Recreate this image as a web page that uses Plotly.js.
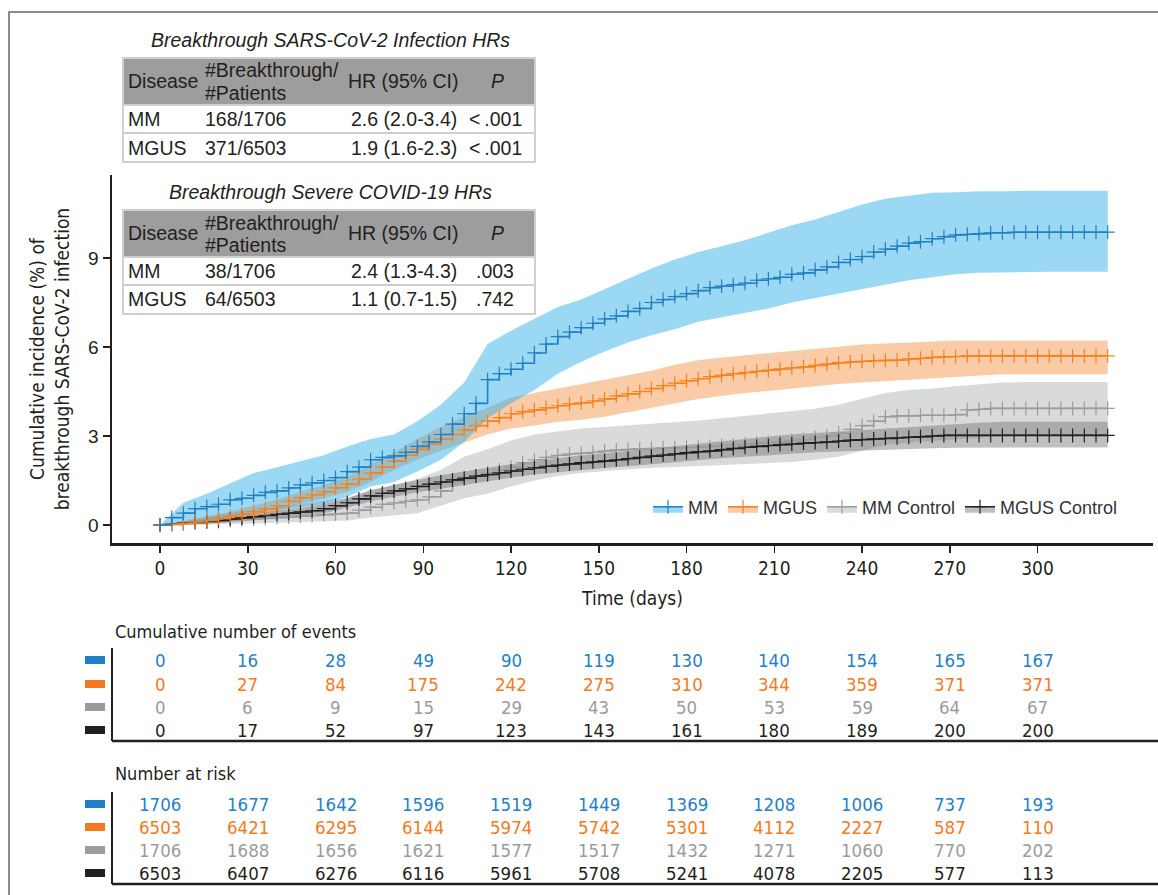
<!DOCTYPE html>
<html><head><meta charset="utf-8">
<script src="https://cdn.plot.ly/plotly-3.0.1.min.js"></script>
<style>html,body{margin:0;padding:0;background:#fff}#chart{width:1158px;height:895px}</style>
</head><body><div id="chart"></div>
<script>
// ---------- DATA ----------
const days = [0,4,8,12,16,20,24,28,32,36,40,44,48,52,56,60,64,68,72,76,80,84,88,92,96,100,104,108,112,116,120,124,128,132,136,140,144,148,152,156,160,164,168,172,176,180,184,188,192,196,200,204,208,212,216,220,224,228,232,236,240,244,248,252,256,260,264,268,272,276,280,284,288,292,296,300,304,308,312,316,320,324];
const mmEst = [0,0.25,0.4,0.55,0.62,0.7,0.85,0.9,1.0,1.1, 1.15,1.25,1.35,1.42,1.5,1.6,1.8,1.95,2.2,2.28, 2.33,2.45,2.65,2.8,3.05,3.4,3.75,4.1,4.9,5.1, 5.25,5.45,5.8,6.1,6.35,6.5,6.65,6.8,6.95,7.05, 7.2,7.3,7.5,7.6,7.7,7.8,7.9,8.0,8.05,8.1, 8.15,8.25,8.3,8.35,8.45,8.5,8.6,8.7,8.85,8.95, 9.05,9.2,9.3,9.4,9.5,9.55,9.65,9.72,9.78,9.8, 9.82,9.85,9.85,9.87,9.87,9.87,9.87,9.87,9.87,9.87, 9.87,9.87];
const mgusEst = [0,0.02,0.05,0.1,0.15,0.22,0.3,0.37,0.45,0.55, 0.65,0.8,0.92,1.02,1.12,1.25,1.38,1.55,1.75,1.95, 2.15,2.35,2.55,2.72,2.9,3.05,3.2,3.35,3.5,3.62, 3.75,3.82,3.88,3.95,4.02,4.08,4.12,4.18,4.25,4.35, 4.42,4.5,4.6,4.7,4.78,4.86,4.93,5.0,5.05,5.1, 5.14,5.18,5.22,5.26,5.3,5.33,5.38,5.43,5.47,5.5, 5.52,5.54,5.55,5.56,5.6,5.62,5.65,5.67,5.68,5.7, 5.7,5.7,5.7,5.7,5.7,5.7,5.7,5.7,5.7,5.7, 5.7,5.7];
const mmCtrlEst = [0,0.02,0.05,0.08,0.1,0.12,0.15,0.18,0.2,0.22, 0.25,0.27,0.3,0.32,0.35,0.37,0.4,0.5,0.6,0.7, 0.75,0.8,0.85,0.95,1.15,1.45,1.55,1.65,1.75,1.85, 1.95,2.1,2.2,2.28,2.35,2.4,2.42,2.45,2.5,2.53, 2.55,2.57,2.58,2.6,2.6,2.62,2.63,2.65,2.68,2.7, 2.73,2.76,2.78,2.8,2.85,2.88,2.95,3.0,3.1,3.22, 3.35,3.5,3.65,3.68,3.68,3.7,3.7,3.7,3.72,3.88, 3.9,3.93,3.93,3.93,3.93,3.93,3.93,3.93,3.93,3.93, 3.93,3.93];
const mgusCtrlEst = [0,0.03,0.06,0.09,0.12,0.15,0.2,0.24,0.28,0.32, 0.36,0.4,0.44,0.48,0.55,0.65,0.75,0.88,0.98,1.07, 1.15,1.22,1.3,1.38,1.45,1.52,1.58,1.65,1.7,1.76, 1.82,1.88,1.93,1.98,2.02,2.06,2.1,2.13,2.16,2.2, 2.24,2.28,2.32,2.36,2.4,2.44,2.47,2.5,2.54,2.58, 2.62,2.65,2.68,2.71,2.73,2.76,2.78,2.8,2.83,2.86, 2.88,2.9,2.92,2.94,2.96,2.98,3.0,3.02,3.02,3.02, 3.02,3.02,3.02,3.02,3.02,3.02,3.02,3.02,3.02,3.02, 3.02,3.02];

const bandDays = [0,8,16,24,32,40,48,56,64,72,80,88,96,104,112,120,128,136,144,152,160,168,176,184,192,200,208,216,224,232,240,248,256,264,272,280,288,296,304,312,320,324];
const mmUpper = [0,0.75,1.05,1.4,1.75,1.95,2.15,2.35,2.65,2.9, 3.05,3.5,4.05,4.8,6.1,6.55,6.95,7.35,7.6,7.95, 8.3,8.65,8.95,9.2,9.4,9.6,9.85,10.1,10.3,10.55, 10.8,11.0,11.1,11.2,11.22,11.25,11.25,11.27,11.27,11.27, 11.27,11.27];
const mmLower = [0,0.05,0.15,0.3,0.42,0.5,0.6,0.7,0.95,1.3, 1.45,1.8,2.2,2.8,3.6,4.1,4.55,5.1,5.5,5.85, 6.15,6.4,6.6,6.85,7.0,7.15,7.3,7.5,7.65,7.8, 7.95,8.1,8.25,8.35,8.45,8.5,8.52,8.54,8.54,8.54, 8.54,8.54];
const mgusUpper = [0,0.12,0.28,0.45,0.65,0.85,1.12,1.35,1.62,2.05, 2.45,2.9,3.3,3.65,3.95,4.3,4.45,4.6,4.75,4.9, 5.05,5.2,5.4,5.55,5.65,5.72,5.8,5.88,5.95,6.02, 6.08,6.12,6.15,6.2,6.22,6.22,6.22,6.22,6.22,6.22, 6.22,6.22];
const mgusLower = [0,0.01,0.05,0.15,0.28,0.45,0.72,0.9,1.12,1.45, 1.85,2.2,2.5,2.78,3.05,3.25,3.35,3.48,3.55,3.65, 3.8,3.95,4.1,4.25,4.35,4.45,4.52,4.6,4.68,4.75, 4.8,4.85,4.9,4.95,5.0,5.05,5.08,5.08,5.08,5.08, 5.08,5.08];
const mmCtrlUpper = [0,0.15,0.3,0.4,0.5,0.6,0.7,0.8,0.92,1.15, 1.35,1.55,1.85,2.3,2.55,2.85,3.05,3.15,3.25,3.3, 3.35,3.4,3.45,3.52,3.6,3.68,3.75,3.82,3.92,4.05, 4.25,4.45,4.55,4.6,4.68,4.75,4.8,4.82,4.82,4.82, 4.82,4.82];
const mmCtrlLower = [0,0,0.01,0.03,0.05,0.07,0.1,0.12,0.15,0.25, 0.32,0.4,0.65,0.9,1.05,1.3,1.5,1.65,1.75,1.82, 1.88,1.92,1.95,1.98,2.02,2.05,2.08,2.12,2.2,2.3, 2.5,2.7,2.78,2.82,2.88,2.95,3.0,3.0,3.0,3.0, 3.0,3.0];
const mgusCtrlUpper = [0,0.12,0.22,0.32,0.4,0.48,0.57,0.7,0.9,1.18, 1.35,1.5,1.68,1.8,1.93,2.05,2.15,2.25,2.35,2.42, 2.5,2.6,2.68,2.76,2.84,2.92,2.98,3.05,3.1,3.15, 3.2,3.25,3.3,3.36,3.4,3.45,3.48,3.48,3.48,3.48, 3.48,3.48];
const mgusCtrlLower = [0,0.01,0.04,0.1,0.16,0.24,0.3,0.4,0.58,0.8, 0.95,1.1,1.22,1.35,1.48,1.6,1.7,1.78,1.85,1.92, 1.98,2.05,2.12,2.18,2.25,2.3,2.36,2.4,2.45,2.48, 2.52,2.55,2.57,2.59,2.6,2.61,2.61,2.61,2.61,2.61, 2.61,2.61];

const seriesNames = ["MM","MGUS","MM Control","MGUS Control"];
const xTicks = [0,30,60,90,120,150,180,210,240,270,300];
const yTicks = [0,3,6,9];

const eventsMM = [0,16,28,49,90,119,130,140,154,165,167];
const eventsMGUS = [0,27,84,175,242,275,310,344,359,371,371];
const eventsMMCtrl = [0,6,9,15,29,43,50,53,59,64,67];
const eventsMGUSCtrl = [0,17,52,97,123,143,161,180,189,200,200];
const riskMM = [1706,1677,1642,1596,1519,1449,1369,1208,1006,737,193];
const riskMGUS = [6503,6421,6295,6144,5974,5742,5301,4112,2227,587,110];
const riskMMCtrl = [1706,1688,1656,1621,1577,1517,1432,1271,1060,770,202];
const riskMGUSCtrl = [6503,6407,6276,6116,5961,5708,5241,4078,2205,577,113];

const tableHeader = ["Disease","#Breakthrough/","#Patients","HR (95% CI)","P"];
const infTitle = "Breakthrough SARS-CoV-2 Infection HRs";
const infRows = [["MM","168/1706","2.6 (2.0-3.4)","&lt;\u2009.001"],["MGUS","371/6503","1.9 (1.6-2.3)","&lt;\u2009.001"]];
const sevTitle = "Breakthrough Severe COVID-19 HRs";
const sevRows = [["MM","38/1706","2.4 (1.3-4.3)",".003"],["MGUS","64/6503","1.1 (0.7-1.5)",".742"]];

// ---------- STYLE ----------
const W = 1158, H = 895;
const PX = p => p / W;
const PY = p => 1 - p / H;
const SANS = '"Liberation Sans", Arial, Helvetica, sans-serif';
const COND = '"Liberation Sans Narrow", "Arial Narrow", "DejaVu Sans Condensed", sans-serif';
const lineCol = ["#2380c4", "#f5821f", "#9b9c9e", "#231f20"];
const bandCol = ["rgba(56,178,232,0.5)", "rgba(245,140,60,0.45)", "rgba(170,172,175,0.45)", "rgba(110,112,115,0.45)"];
const textCol = ["#1f80c8", "#f47a20", "#9b9b9b", "#231f20"];

const est = [mmEst, mgusEst, mmCtrlEst, mgusCtrlEst];
const up = [mmUpper, mgusUpper, mmCtrlUpper, mgusCtrlUpper];
const lo = [mmLower, mgusLower, mmCtrlLower, mgusCtrlLower];

const traces = [];
const bandOrder = [2, 3, 1, 0];
bandOrder.forEach(i => {
  traces.push({x: bandDays, y: lo[i], type: 'scatter', mode: 'lines', line: {width: 0, color: bandCol[i]}, showlegend: false, hoverinfo: 'skip'});
  traces.push({x: bandDays, y: up[i], type: 'scatter', mode: 'lines', fill: 'tonexty', fillcolor: bandCol[i], line: {width: 0, color: bandCol[i]}, showlegend: false, hoverinfo: 'skip'});
});
const lineOrder = [2, 3, 1, 0];
lineOrder.forEach(i => {
  traces.push({x: days, y: est[i], type: 'scatter', mode: 'lines+markers', name: seriesNames[i], showlegend: false,
    line: {color: lineCol[i], width: 1.6, shape: 'hv'},
    marker: {symbol: 'cross-thin', size: 10, color: lineCol[i], line: {width: 1.2, color: lineCol[i]}}});
});
[0, 1, 2, 3].forEach(i => {
  traces.push({x: [null], y: [null], type: 'scatter', mode: 'lines+markers', name: seriesNames[i], fill: 'toself', fillcolor: bandCol[i],
    line: {color: lineCol[i], width: 1.6},
    marker: {symbol: 'cross-thin', size: 10, color: lineCol[i], line: {width: 1.2, color: lineCol[i]}}});
});

const shapes = [];
const ann = [];

// outer frame
shapes.push({type: 'rect', xref: 'paper', yref: 'paper', x0: PX(9), x1: PX(1175), y0: PY(912), y1: PY(12), line: {color: '#666', width: 1.5}, fillcolor: 'rgba(0,0,0,0)'});

function hrTable(title, rows, top) {
  const left = 123, right = 535;
  const hb = top + 47, r1 = hb + 28, r2 = r1 + 29;
  const f = {family: SANS, size: 19.5, color: '#231f20'};
  ann.push({xref: 'paper', yref: 'paper', x: PX(330), y: PY(top - 18), text: '<i>' + title + '</i>', showarrow: false, xanchor: 'center', yanchor: 'middle', font: f});
  shapes.push({type: 'rect', xref: 'paper', yref: 'paper', x0: PX(left), x1: PX(right), y0: PY(hb), y1: PY(top), fillcolor: '#9d9d9d', line: {color: '#cfcfcf', width: 2}, layer: 'above'});
  shapes.push({type: 'rect', xref: 'paper', yref: 'paper', x0: PX(left), x1: PX(right), y0: PY(r2), y1: PY(hb), fillcolor: '#ffffff', line: {color: '#cfcfcf', width: 2}, layer: 'above'});
  shapes.push({type: 'line', xref: 'paper', yref: 'paper', x0: PX(left), x1: PX(right), y0: PY(r1), y1: PY(r1), line: {color: '#cfcfcf', width: 2}, layer: 'above'});
  const hm = (top + hb) / 2;
  ann.push({xref: 'paper', yref: 'paper', x: PX(126), y: PY(hm), text: tableHeader[0], showarrow: false, xanchor: 'left', yanchor: 'middle', font: f});
  ann.push({xref: 'paper', yref: 'paper', x: PX(203), y: PY(hm - 11), text: tableHeader[1], showarrow: false, xanchor: 'left', yanchor: 'middle', font: f});
  ann.push({xref: 'paper', yref: 'paper', x: PX(203), y: PY(hm + 11), text: tableHeader[2], showarrow: false, xanchor: 'left', yanchor: 'middle', font: f});
  ann.push({xref: 'paper', yref: 'paper', x: PX(346), y: PY(hm), text: tableHeader[3], showarrow: false, xanchor: 'left', yanchor: 'middle', font: f});
  ann.push({xref: 'paper', yref: 'paper', x: PX(498), y: PY(hm), text: '<i>' + tableHeader[4] + '</i>', showarrow: false, xanchor: 'center', yanchor: 'middle', font: f});
  [(hb + r1) / 2, (r1 + r2) / 2].forEach((ym, k) => {
    const r = rows[k];
    ann.push({xref: 'paper', yref: 'paper', x: PX(126), y: PY(ym), text: r[0], showarrow: false, xanchor: 'left', yanchor: 'middle', font: f});
    ann.push({xref: 'paper', yref: 'paper', x: PX(203), y: PY(ym), text: r[1], showarrow: false, xanchor: 'left', yanchor: 'middle', font: f});
    ann.push({xref: 'paper', yref: 'paper', x: PX(349), y: PY(ym), text: r[2], showarrow: false, xanchor: 'left', yanchor: 'middle', font: f});
    ann.push({xref: 'paper', yref: 'paper', x: PX(495), y: PY(ym), text: r[3], showarrow: false, xanchor: 'center', yanchor: 'middle', font: f});
  });
}
hrTable(infTitle, infRows, 58);
hrTable(sevTitle, sevRows, 210);

function riskTable(title, titleY, rowsY, data) {
  ann.push({xref: 'paper', yref: 'paper', x: PX(113), y: PY(titleY), text: title, showarrow: false, xanchor: 'left', yanchor: 'middle', font: {family: COND, size: 18, color: '#231f20'}});
  rowsY.forEach((ry, i) => {
    shapes.push({type: 'rect', xref: 'paper', yref: 'paper', x0: PX(85), x1: PX(105), y0: PY(ry + 4), y1: PY(ry - 4), fillcolor: textCol[i], line: {width: 0}});
    data[i].forEach((v, k) => {
      ann.push({xref: 'x', yref: 'paper', x: xTicks[k], y: PY(ry), text: String(v), showarrow: false, xanchor: 'center', yanchor: 'middle', font: {family: COND, size: 18.5, color: textCol[i]}});
    });
  });
  const bot = rowsY[3] + 11;
  shapes.push({type: 'line', xref: 'paper', yref: 'paper', x0: PX(112), x1: PX(112), y0: PY(rowsY[0] - 12), y1: PY(bot), line: {color: '#231f20', width: 2}});
  shapes.push({type: 'line', xref: 'paper', yref: 'paper', x0: PX(112), x1: PX(1158), y0: PY(bot), y1: PY(bot), line: {color: '#231f20', width: 2.5}});
}
riskTable('Cumulative number of events', 631, [660, 684, 707, 730], [eventsMM, eventsMGUS, eventsMMCtrl, eventsMGUSCtrl]);
riskTable('Number at risk', 773, [804, 827, 850, 873], [riskMM, riskMGUS, riskMMCtrl, riskMGUSCtrl]);

const layout = {
  width: W, height: H,
  margin: {l: 0, r: 0, t: 0, b: 0},
  paper_bgcolor: '#fff', plot_bgcolor: 'rgba(0,0,0,0)',
  font: {family: SANS, color: '#231f20'},
  showlegend: true,
  legend: {orientation: 'h', x: PX(648), y: PY(507), xanchor: 'left', yanchor: 'middle', font: {family: SANS, size: 18, color: '#333'}, bgcolor: 'rgba(0,0,0,0)', itemwidth: 30, traceorder: 'normal'},
  xaxis: {
    domain: [PX(112), PX(1153)], range: [(112 - 160) / 2.925, (1153 - 160) / 2.925],
    tickvals: xTicks, ticks: 'outside', ticklen: 7, tickwidth: 1.5, tickcolor: '#231f20',
    showline: true, linecolor: '#231f20', linewidth: 2.5, showgrid: false, zeroline: false,
    tickfont: {family: COND, size: 19, color: '#231f20'},
    title: {text: 'Time (days)', font: {family: COND, size: 19, color: '#231f20'}, standoff: 14},
    anchor: 'y'
  },
  yaxis: {
    domain: [PY(543), PY(175)], range: [(525 - 543) / 29.667, (525 - 175) / 29.667],
    tickvals: yTicks, ticks: 'outside', ticklen: 7, tickwidth: 1.5, tickcolor: '#231f20',
    showline: true, linecolor: '#231f20', linewidth: 2.5, showgrid: false, zeroline: false,
    tickfont: {family: SANS, size: 19, color: '#231f20'},
    title: {text: 'Cumulative incidence (%) of<br>breakthrough SARS-CoV-2 infection', font: {family: COND, size: 19, color: '#231f20'}, standoff: 14},
    anchor: 'x'
  },
  shapes: shapes,
  annotations: ann
};

Plotly.newPlot('chart', traces, layout, {displayModeBar: false, staticPlot: true});
</script>
</body></html>
